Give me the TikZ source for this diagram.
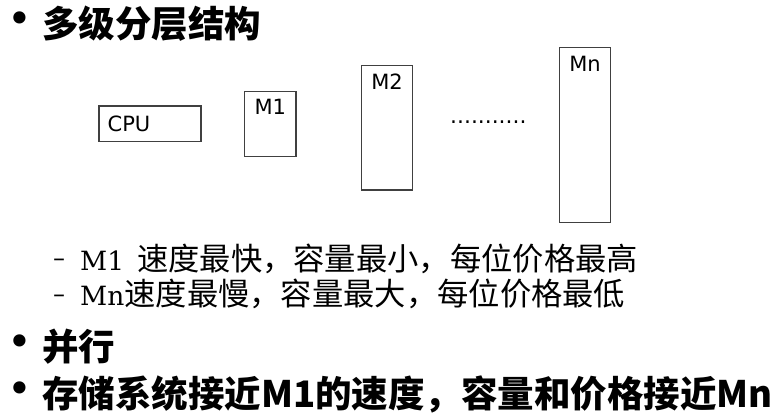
\documentclass[tikz,border=0pt]{standalone}
\usepackage{fontspec}
\usepackage{tikz}
\usetikzlibrary{positioning}
\newfontfamily\cjk{Noto Sans CJK SC}
\newfontfamily\dejavu{DejaVu Sans}
\newfontfamily\dejavuserif{DejaVu Serif}
\newcommand\latinpart{\dejavuserif\fontsize{26.5}{32}\selectfont}
\definecolor{boxline}{HTML}{404040}

\begin{document}
\begin{tikzpicture}[x=1pt,y=-1pt,
  membox/.style={draw=boxline,line width=1.2pt,inner sep=0pt},
  boxlabel/.style={inner sep=0pt,font=\dejavu\fontsize{21}{25}\selectfont},
  bulletmark/.style={inner sep=0pt,font=\dejavu\fontsize{42}{46}\selectfont},
  dashmark/.style={inner sep=0pt,font=\dejavu\fontsize{24}{28}\selectfont},
  headline/.style={inner sep=0pt,anchor=base west,font=\cjk\bfseries\fontsize{36.5}{40}\selectfont},
  subline/.style={inner sep=0pt,anchor=base west,font=\cjk\fontsize{31.3}{35}\selectfont}]
\useasboundingbox (0,0) rectangle (777,419);
\node[bulletmark] (b1) at (19.5,22.5) {•};
\node[headline] (h1) at (42,37.7) {多级分层结构};
\node[membox,minimum width=102pt,minimum height=35.3pt] (cpu) at (150,123.7) {};
\node[boxlabel,anchor=west,right=9pt of cpu.west] (cpulbl) {CPU};
\node[membox,minimum width=51.3pt,minimum height=65.4pt] (m1) at (270.3,124) {};
\node[boxlabel,below=8.7pt of m1.north] (m1lbl) {M1};
\node[membox,minimum width=51.4pt,minimum height=124.3pt] (m2) at (387,127.9) {};
\node[boxlabel,below=8.7pt of m2.north] (m2lbl) {M2};
\node[membox,minimum width=51.4pt,minimum height=175pt] (mn) at (585,134.8) {};
\node[boxlabel,below=9.2pt of mn.north] (mnlbl) {Mn};
\node[boxlabel,anchor=base west,font=\dejavu\fontsize{21.8}{25}\selectfont] (dots) at (450,123.5) {...........};
\node[dashmark] (d1) at (59,263) {–};
\node[subline] (s1) at (80,271) {{\latinpart M1}\hspace{13pt}速度最快，容量最小，每位价格最高};
\node[dashmark] (d2) at (59,299) {–};
\node[subline] (s2) at (80,306) {{\latinpart Mn}速度最慢，容量最大，每位价格最低};
\node[bulletmark] (b2) at (19.5,346) {•};
\node[headline] (h2) at (42,360.7) {并行};
\node[bulletmark] (b3) at (19.5,393) {•};
\node[headline] (h3) at (42,407.7) {存储系统接近M1的速度，容量和价格接近Mn};
\end{tikzpicture}
\end{document}
